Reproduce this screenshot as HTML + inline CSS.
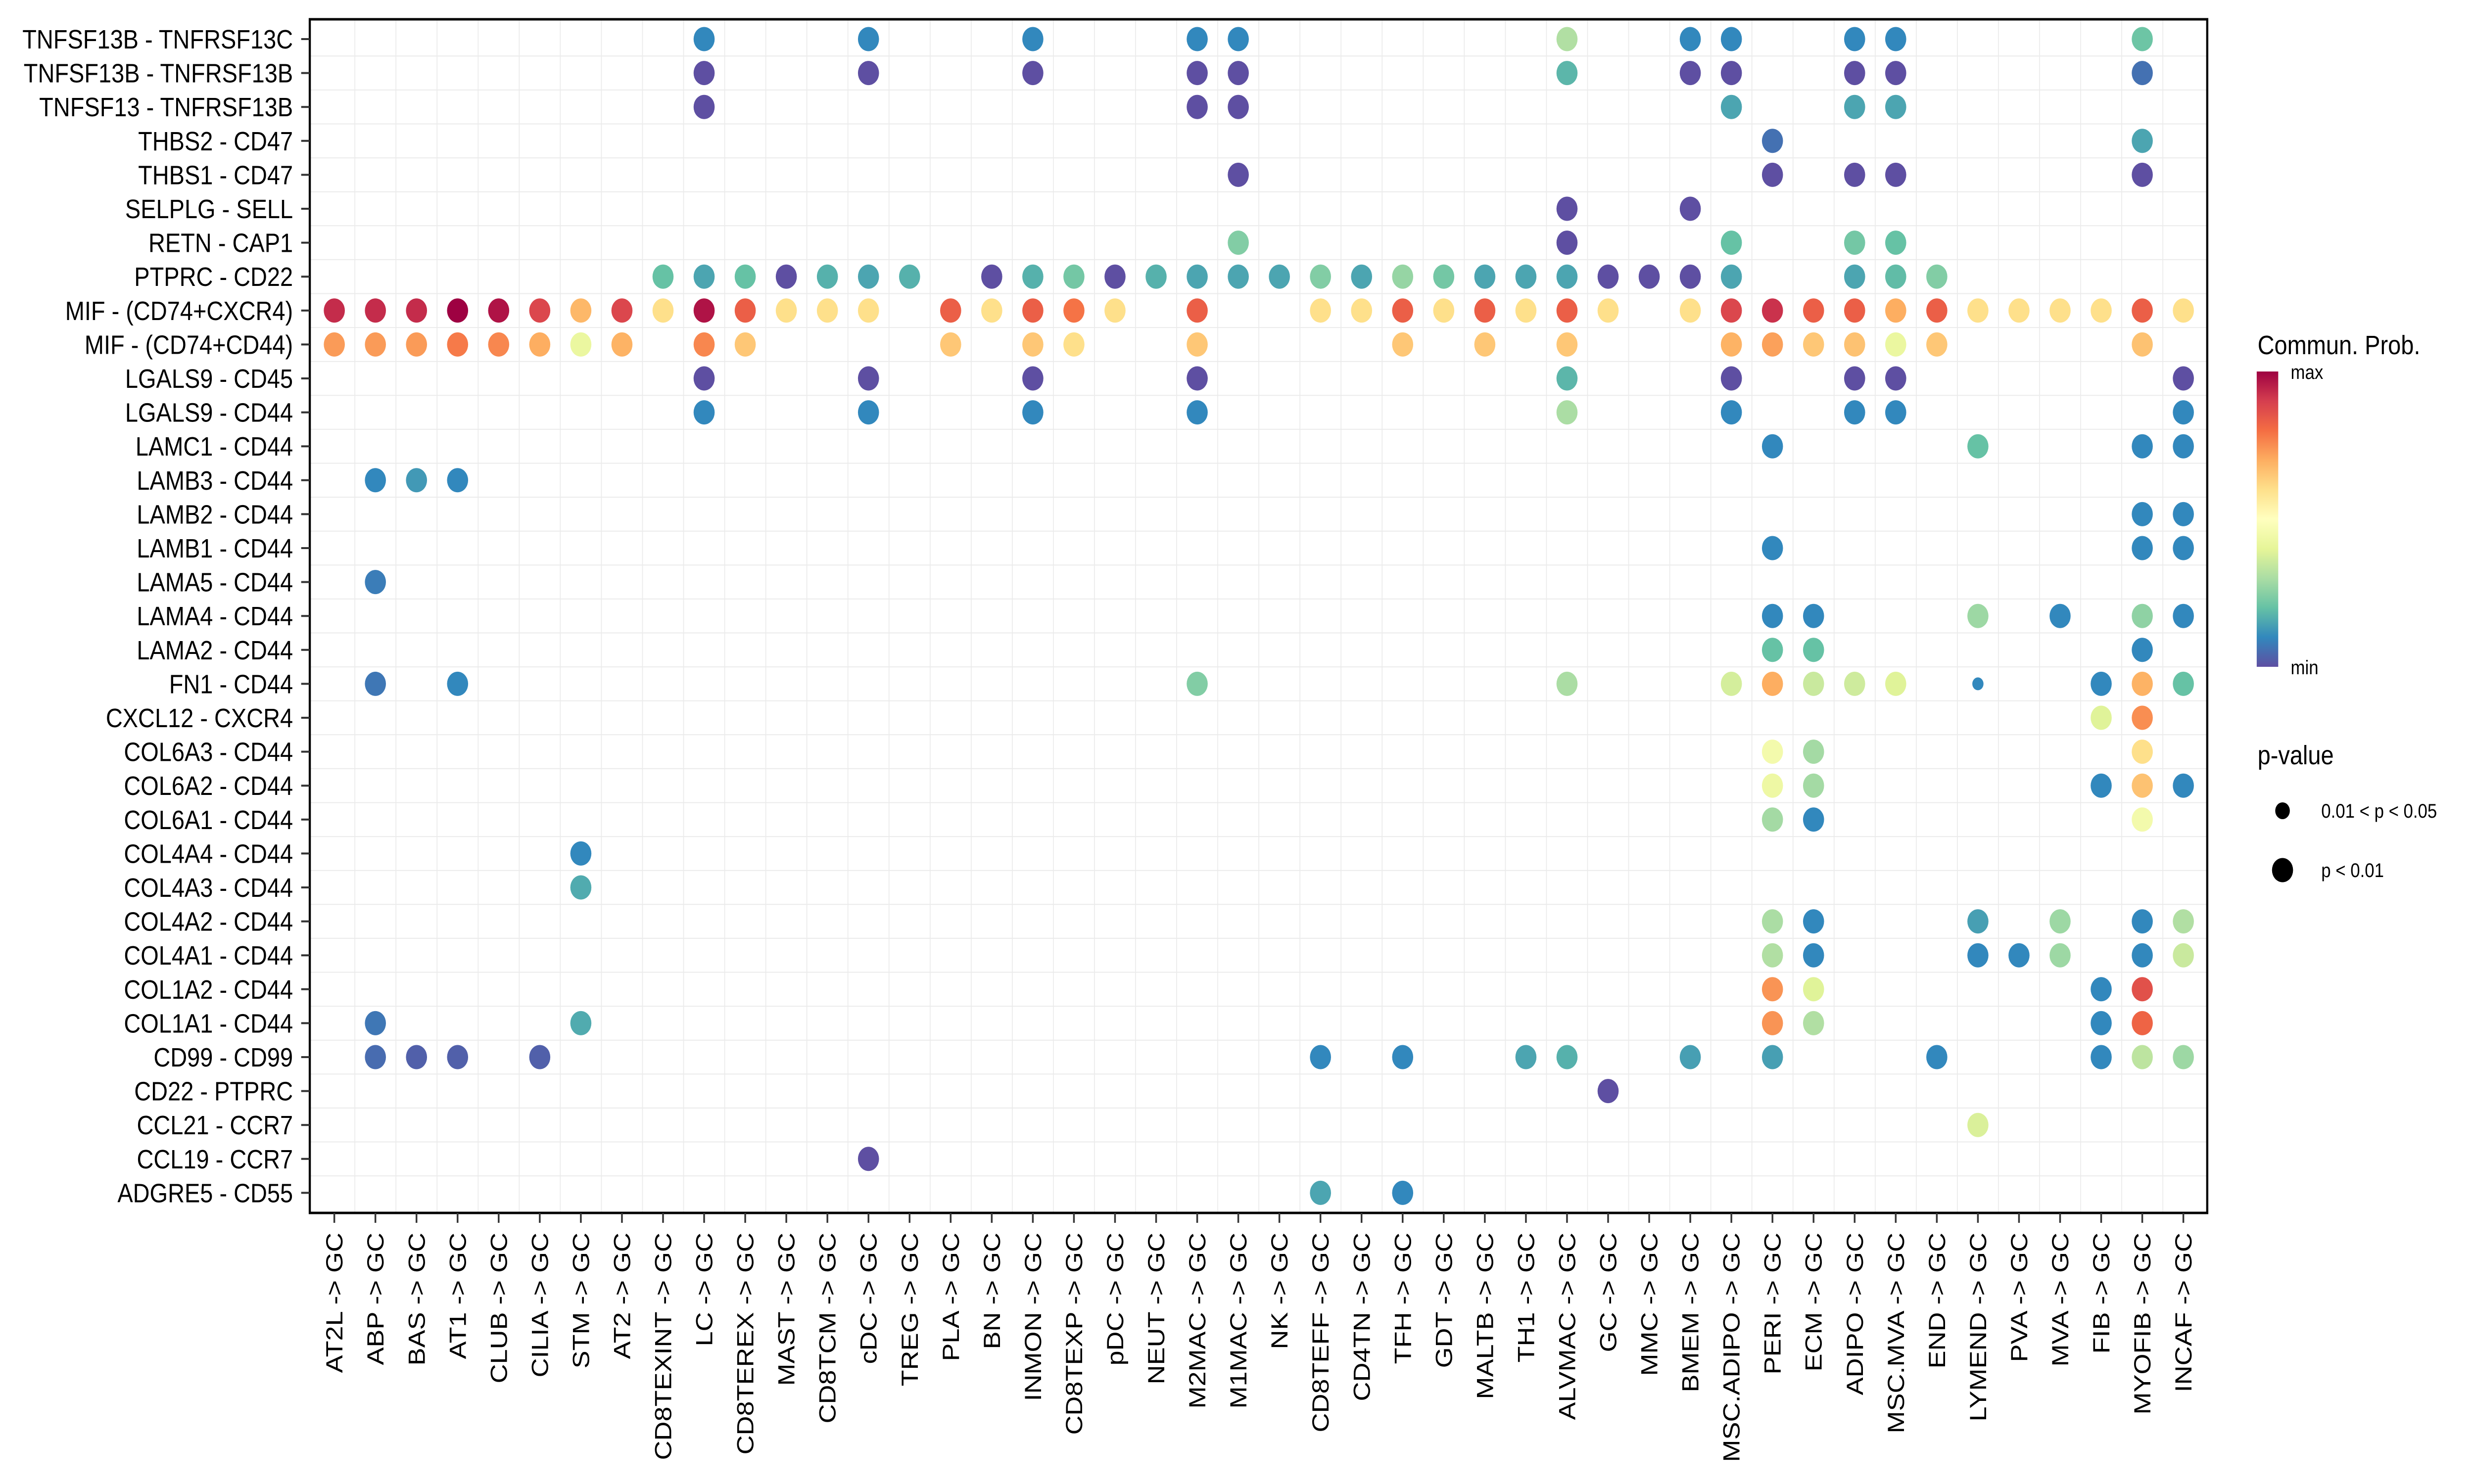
<!DOCTYPE html>
<html><head><meta charset="utf-8">
<style>
html,body{margin:0;padding:0;background:#fff;width:100%;height:100%;overflow:hidden;}
svg{display:block;font-family:"Liberation Sans",sans-serif;position:fixed;left:0;top:0;width:100vw;height:100vh;}
</style></head>
<body>
<svg id="chart" viewBox="0 0 5750 3000" preserveAspectRatio="none" xmlns="http://www.w3.org/2000/svg">
<defs>
<linearGradient id="spectral" x1="0" y1="1" x2="0" y2="0">
<stop offset="0" stop-color="#5E4FA2"/><stop offset="0.1" stop-color="#3288BD"/><stop offset="0.2" stop-color="#66C2A5"/><stop offset="0.3" stop-color="#ABDDA4"/><stop offset="0.4" stop-color="#E6F598"/><stop offset="0.5" stop-color="#FFFFBF"/><stop offset="0.6" stop-color="#FEE08B"/><stop offset="0.7" stop-color="#FDAE61"/><stop offset="0.8" stop-color="#F46D43"/><stop offset="0.9" stop-color="#D53E4F"/><stop offset="1" stop-color="#9E0142"/>
</linearGradient>
</defs>
<rect x="0" y="0" width="5750" height="3000" fill="#fff"/>
<g id="grid"></g>
<g id="dots"></g>
<rect x="720" y="39" width="4410" height="2413" fill="none" stroke="#000" stroke-width="5"/>
<g id="yaxis"></g>
<g id="xaxis"></g>
<g>
<text x="5247" y="716" font-size="54">Commun. Prob.</text>
<rect x="5245" y="751" width="50" height="597" fill="url(#spectral)"/>
<text x="5324" y="766" font-size="40">max</text>
<text x="5324" y="1363" font-size="40">min</text>
</g>
<g>
<text x="5247" y="1545" font-size="54">p-value</text>
<circle cx="5305" cy="1639" r="17" fill="#000"/>
<text x="5395" y="1653" font-size="40">0.01 &lt; p &lt; 0.05</text>
<circle cx="5305" cy="1759" r="24.5" fill="#000"/>
<text x="5395" y="1773" font-size="40">p &lt; 0.01</text>
</g>
</svg>
<script>
const rowLabels = ["TNFSF13B - TNFRSF13C","TNFSF13B - TNFRSF13B","TNFSF13 - TNFRSF13B","THBS2 - CD47","THBS1 - CD47","SELPLG - SELL","RETN - CAP1","PTPRC - CD22","MIF - (CD74+CXCR4)","MIF - (CD74+CD44)","LGALS9 - CD45","LGALS9 - CD44","LAMC1 - CD44","LAMB3 - CD44","LAMB2 - CD44","LAMB1 - CD44","LAMA5 - CD44","LAMA4 - CD44","LAMA2 - CD44","FN1 - CD44","CXCL12 - CXCR4","COL6A3 - CD44","COL6A2 - CD44","COL6A1 - CD44","COL4A4 - CD44","COL4A3 - CD44","COL4A2 - CD44","COL4A1 - CD44","COL1A2 - CD44","COL1A1 - CD44","CD99 - CD99","CD22 - PTPRC","CCL21 - CCR7","CCL19 - CCR7","ADGRE5 - CD55"];
const colLabels = ["AT2L","ABP","BAS","AT1","CLUB","CILIA","STM","AT2","CD8TEXINT","LC","CD8TEREX","MAST","CD8TCM","cDC","TREG","PLA","BN","INMON","CD8TEXP","pDC","NEUT","M2MAC","M1MAC","NK","CD8TEFF","CD4TN","TFH","GDT","MALTB","TH1","ALVMAC","GC","MMC","BMEM","MSC.ADIPO","PERI","ECM","ADIPO","MSC.MVA","END","LYMEND","PVA","MVA","FIB","MYOFIB","INCAF"];
// per-row values: "COL:prob" (prob scaled 0=min..1=max); "*" suffix = 0.01<p<0.05
const rowValues = [
"LC:0.1 cDC:0.1 INMON:0.1 M2MAC:0.1 M1MAC:0.1 ALVMAC:0.31 BMEM:0.1 MSC.ADIPO:0.1 ADIPO:0.1 MSC.MVA:0.1 MYOFIB:0.21",
"LC:0 cDC:0 INMON:0 M2MAC:0 M1MAC:0 ALVMAC:0.18 BMEM:0 MSC.ADIPO:0 ADIPO:0 MSC.MVA:0 MYOFIB:0.06",
"LC:0 M2MAC:0 M1MAC:0 MSC.ADIPO:0.15 ADIPO:0.15 MSC.MVA:0.15",
"PERI:0.06 MYOFIB:0.15",
"M1MAC:0 PERI:0 ADIPO:0 MSC.MVA:0 MYOFIB:0",
"ALVMAC:0 BMEM:0",
"M1MAC:0.24 ALVMAC:0 MSC.ADIPO:0.2 ADIPO:0.22 MSC.MVA:0.2",
"CD8TEXINT:0.2 LC:0.15 CD8TEREX:0.2 MAST:0 CD8TCM:0.17 cDC:0.15 TREG:0.17 BN:0 INMON:0.17 CD8TEXP:0.22 pDC:0 NEUT:0.17 M2MAC:0.15 M1MAC:0.15 NK:0.15 CD8TEFF:0.24 CD4TN:0.15 TFH:0.27 GDT:0.22 MALTB:0.15 TH1:0.15 ALVMAC:0.15 GC:0 MMC:0 BMEM:0 MSC.ADIPO:0.15 ADIPO:0.15 MSC.MVA:0.19 END:0.24",
"AT2L:0.93 ABP:0.93 BAS:0.93 AT1:1 CLUB:0.97 CILIA:0.88 STM:0.68 AT2:0.88 CD8TEXINT:0.6 LC:0.97 CD8TEREX:0.83 MAST:0.6 CD8TCM:0.6 cDC:0.6 PLA:0.83 BN:0.6 INMON:0.83 CD8TEXP:0.79 pDC:0.6 M2MAC:0.83 CD8TEFF:0.6 CD4TN:0.6 TFH:0.83 GDT:0.6 MALTB:0.83 TH1:0.6 ALVMAC:0.83 GC:0.6 BMEM:0.6 MSC.ADIPO:0.88 PERI:0.92 ECM:0.83 ADIPO:0.83 MSC.MVA:0.7 END:0.83 LYMEND:0.6 PVA:0.6 MVA:0.6 FIB:0.6 MYOFIB:0.83 INCAF:0.6",
"AT2L:0.73 ABP:0.73 BAS:0.73 AT1:0.78 CLUB:0.76 CILIA:0.7 STM:0.42 AT2:0.69 LC:0.76 CD8TEREX:0.65 PLA:0.65 INMON:0.65 CD8TEXP:0.6 M2MAC:0.65 TFH:0.65 MALTB:0.65 ALVMAC:0.65 MSC.ADIPO:0.69 PERI:0.72 ECM:0.65 ADIPO:0.66 MSC.MVA:0.42 END:0.65 MYOFIB:0.66",
"LC:0 cDC:0 INMON:0 M2MAC:0 ALVMAC:0.18 MSC.ADIPO:0 ADIPO:0 MSC.MVA:0 INCAF:0",
"LC:0.1 cDC:0.1 INMON:0.1 M2MAC:0.1 ALVMAC:0.3 MSC.ADIPO:0.1 ADIPO:0.1 MSC.MVA:0.1 INCAF:0.1",
"PERI:0.1 LYMEND:0.2 MYOFIB:0.1 INCAF:0.1",
"ABP:0.1 BAS:0.13 AT1:0.1",
"MYOFIB:0.1 INCAF:0.1",
"PERI:0.1 MYOFIB:0.1 INCAF:0.1",
"ABP:0.08",
"PERI:0.1 ECM:0.1 LYMEND:0.28 MVA:0.1 MYOFIB:0.26 INCAF:0.1",
"PERI:0.2 ECM:0.2 MYOFIB:0.1",
"ABP:0.07 AT1:0.1 M2MAC:0.24 ALVMAC:0.3 MSC.ADIPO:0.37 PERI:0.7 ECM:0.35 ADIPO:0.36 MSC.MVA:0.39 LYMEND:0.1* FIB:0.1 MYOFIB:0.69 INCAF:0.2",
"FIB:0.39 MYOFIB:0.75",
"PERI:0.45 ECM:0.29 MYOFIB:0.6",
"PERI:0.43 ECM:0.29 FIB:0.1 MYOFIB:0.66 INCAF:0.1",
"PERI:0.29 ECM:0.1 MYOFIB:0.45",
"STM:0.1",
"STM:0.16",
"PERI:0.3 ECM:0.1 LYMEND:0.14 MVA:0.28 MYOFIB:0.1 INCAF:0.31",
"PERI:0.31 ECM:0.1 LYMEND:0.1 PVA:0.1 MVA:0.28 MYOFIB:0.1 INCAF:0.35",
"PERI:0.74 ECM:0.39 FIB:0.1 MYOFIB:0.86",
"ABP:0.07 STM:0.16 PERI:0.74 ECM:0.31 FIB:0.1 MYOFIB:0.82",
"ABP:0.05 BAS:0.03 AT1:0.03 CILIA:0.03 CD8TEFF:0.1 TFH:0.1 TH1:0.15 ALVMAC:0.17 BMEM:0.14 PERI:0.14 END:0.1 FIB:0.1 MYOFIB:0.33 INCAF:0.28",
"GC:0",
"LYMEND:0.38",
"cDC:0",
"CD8TEFF:0.15 TFH:0.1"
];

const NS = "http://www.w3.org/2000/svg";
const X0 = 777, DX = 95.5, Y0 = 79, DY = 68.6;
function xPos(ci){ return X0 + ci*DX; }
function yPos(ri){ return Y0 + ri*DY; }
const stops = ["#5E4FA2","#3288BD","#66C2A5","#ABDDA4","#E6F598","#FFFFBF","#FEE08B","#FDAE61","#F46D43","#D53E4F","#9E0142"];
function hex(h){ return [parseInt(h.slice(1,3),16),parseInt(h.slice(3,5),16),parseInt(h.slice(5,7),16)]; }
function colorScale(v){
  v = Math.max(0, Math.min(1, v));
  const t = v*10, i = Math.min(9, Math.floor(t)), f = t - i;
  const a = hex(stops[i]), b = hex(stops[i+1]);
  return "rgb(" + a.map((c,k)=>Math.round(c+(b[k]-c)*f)).join(",") + ")";
}
function mk(tag, attrs){ const e = document.createElementNS(NS, tag); for (const k in attrs) e.setAttribute(k, attrs[k]); return e; }

const grid = document.getElementById("grid");
for (let i = 0; i < colLabels.length - 1; i++) {
  const x = xPos(i + 0.5);
  const l = mk("line", {x1:x, y1:39, x2:x, y2:2452, stroke:"#EBEBEB", "stroke-width":2});
  
  
  grid.appendChild(l);
}
for (let i = 0; i < rowLabels.length - 1; i++) {
  const y = yPos(i + 0.5);
  const l = mk("line", {x1:720, y1:y, x2:5130, y2:y, stroke:"#EBEBEB", "stroke-width":2});
  
  
  grid.appendChild(l);
}

const yaxis = document.getElementById("yaxis");
rowLabels.forEach((lab, i) => {
  const y = yPos(i);
  const t = mk("line", {x1:700, y1:y, x2:720, y2:y, stroke:"#333", "stroke-width":4});
  
  
  yaxis.appendChild(t);
  const tx = mk("text", {x:681, y:y + 19, "font-size":54, "text-anchor":"end", fill:"#000"});
  tx.textContent = lab;
  
  
  yaxis.appendChild(tx);
});

const xaxis = document.getElementById("xaxis");
colLabels.forEach((lab, i) => {
  const x = xPos(i);
  const t = mk("line", {x1:x, y1:2452, x2:x, y2:2472, stroke:"#333", "stroke-width":4});
  
  
  xaxis.appendChild(t);
  const tx = mk("text", {transform:"translate(" + (x + 19) + ",2492) rotate(-90)", "font-size":54, "text-anchor":"end", fill:"#000"});
  tx.textContent = lab + " -> GC";
  
  
  xaxis.appendChild(tx);
});

const dots = document.getElementById("dots");
rowValues.forEach((s, ri) => {
  s.split(" ").filter(Boolean).forEach(tok => {
    const idx = tok.lastIndexOf(":");
    const name = tok.slice(0, idx);
    let val = tok.slice(idx + 1);
    const weak = val.endsWith("*");
    if (weak) val = val.slice(0, -1);
    const ci = colLabels.indexOf(name);
    if (ci < 0) return;
    const c = mk("circle", {cx:xPos(ci), cy:yPos(ri), r: weak ? 13 : 24.5, fill: colorScale(parseFloat(val))});
    
    
    dots.appendChild(c);
  });
});
</script>
</body></html>
